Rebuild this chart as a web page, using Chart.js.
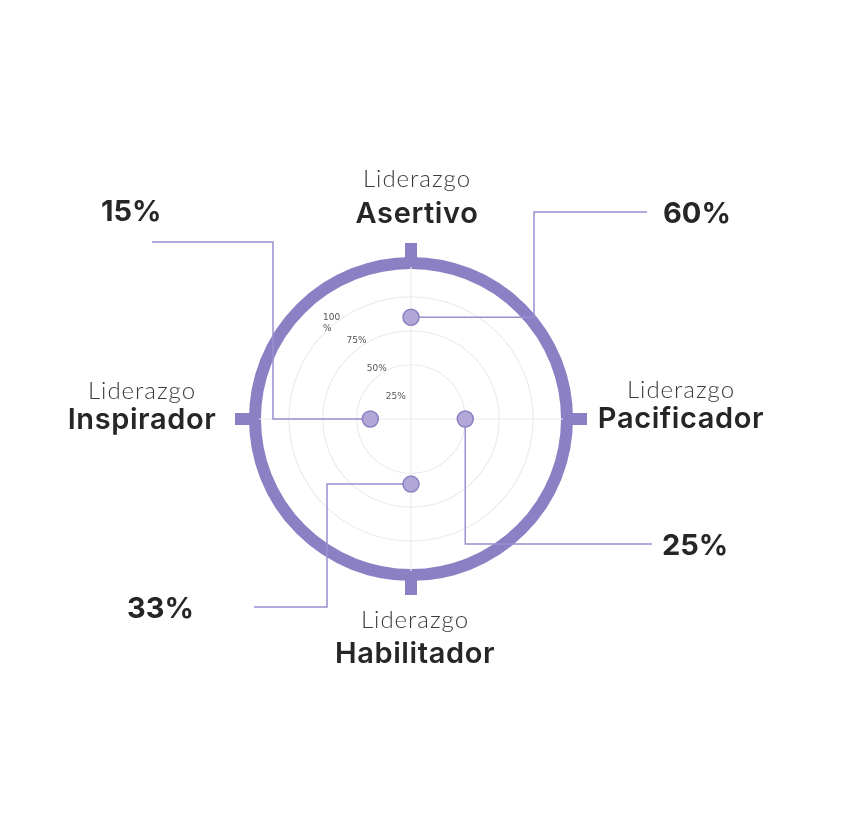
<!DOCTYPE html>
<html>
<head>
<meta charset="utf-8">
<script src="https://cdn.jsdelivr.net/npm/chart.js@4.4.0/dist/chart.umd.min.js"></script>
<style>
  html, body { margin: 0; background: #fff; }
  #wrap { width: 844px; height: 838px; }
</style>
</head>
<body>
<div id="wrap"><canvas id="radar"></canvas></div>
<script>
const categories = ['Asertivo', 'Pacificador', 'Habilitador', 'Inspirador'];
const values = [60, 25, 33, 15];
const tickValues = [25, 50, 75, 100];
const tickLabels = ['25%', '50%', '75%', ['100', '%']];
const prefix = 'Liderazgo';

const purple = '#8b80c3';
const lineColor = '#9a8fd0';
const textColor = '#262626';

// label placement around the centre, per axis (top, right, bottom, left)
const nameSpots = [
  { dx: 6, y1: -232, y2: -196 },
  { dx: 270, y1: -21, y2: 9 },
  { dx: 4, y1: 209, y2: 244 },
  { dx: -269, y1: -20, y2: 10 }
];

const decor = {
  id: 'decor',
  beforeDatasetsDraw(chart) {
    const ctx = chart.ctx;
    const s = chart.scales.r;
    const cx = s.xCenter, cy = s.yCenter;
    const R = s.drawingArea;

    // little bars poking out of the ring
    ctx.save();
    ctx.strokeStyle = purple;
    ctx.lineWidth = 12;
    categories.forEach((c, i) => {
      const a = s.getPointPosition(i, R - 4);
      const b = s.getPointPosition(i, R + 20);
      ctx.beginPath();
      ctx.moveTo(a.x, a.y);
      ctx.lineTo(b.x, b.y);
      ctx.stroke();
    });
    ctx.restore();

    // callout lines
    const pts = chart.getDatasetMeta(0).data;
    const routes = [
      p => [[p.x, p.y], [cx + 123, p.y], [cx + 123, cy - 207], [cx + 236, cy - 207]],
      p => [[p.x, p.y], [p.x, cy + 125], [cx + 241, cy + 125]],
      p => [[p.x, p.y], [cx - 84, p.y], [cx - 84, cy + 188], [cx - 157, cy + 188]],
      p => [[p.x, p.y], [cx - 138, p.y], [cx - 138, cy - 177], [cx - 259, cy - 177]]
    ];
    ctx.save();
    ctx.strokeStyle = lineColor;
    ctx.lineWidth = 1.5;
    pts.forEach((p, i) => {
      const path = routes[i](p);
      ctx.beginPath();
      path.forEach((q, k) => k ? ctx.lineTo(q[0], q[1]) : ctx.moveTo(q[0], q[1]));
      ctx.stroke();
    });
    ctx.restore();
  },
  afterDraw(chart) {
    const ctx = chart.ctx;
    const s = chart.scales.r;
    const cx = s.xCenter, cy = s.yCenter;

    ctx.save();
    // tick labels along a diagonal
    ctx.fillStyle = '#555';
    ctx.font = '9px "DejaVu Sans", sans-serif';
    ctx.textBaseline = 'middle';
    ctx.textAlign = 'left';
    const angles = [34, 34, 35, 38];
    tickValues.forEach((v, i) => {
      const ang = angles[i] * Math.PI / 180;
      const d = s.getDistanceFromCenterForValue(v) - 27;
      const x = cx - Math.sin(ang) * d;
      const y = cy - Math.cos(ang) * d;
      const lines = [].concat(tickLabels[i]);
      const w = ctx.measureText(lines[0]).width;
      lines.forEach((t, k) => ctx.fillText(t, x - w / 2, y + k * 11));
    });

    // axis names
    ctx.textAlign = 'center';
    ctx.textBaseline = 'alphabetic';
    categories.forEach((c, i) => {
      const sp = nameSpots[i];
      ctx.font = '300 24px "Lato", "Open Sans", sans-serif';
      ctx.letterSpacing = '1px';
      ctx.fillStyle = '#3a3a3a';
      ctx.fillText(prefix, cx + sp.dx, cy + sp.y1);
      ctx.font = '600 29px "Inter", "Open Sans", sans-serif';
      ctx.letterSpacing = '0.6px';
      ctx.fillStyle = textColor;
      ctx.fillText(c, cx + sp.dx, cy + sp.y2);
    });
    ctx.letterSpacing = '0px';

    // percentage callouts
    ctx.font = '700 29px "Inter", "Open Sans", sans-serif';
    const tags = [
      { x: cx + 252, y: cy - 196, align: 'left' },
      { x: cx + 251, y: cy + 136, align: 'left' },
      { x: cx - 217, y: cy + 199, align: 'right' },
      { x: cx - 310, y: cy - 198, align: 'left' }
    ];
    values.forEach((v, i) => {
      ctx.textAlign = tags[i].align;
      ctx.fillText(v + '%', tags[i].x, tags[i].y);
    });
    ctx.restore();
  }
};

const ctx = document.getElementById('radar').getContext('2d');
const chart = new Chart(ctx, {
  type: 'radar',
  data: {
    labels: categories,
    datasets: [{
      label: 'Liderazgo',
      data: values,
      showLine: false,
      fill: false,
      borderWidth: 0,
      backgroundColor: 'transparent',
      pointRadius: 8,
      pointHoverRadius: 8,
      pointBackgroundColor: '#b2a7d7',
      pointBorderColor: '#8b80c3',
      pointBorderWidth: 1.5
    }]
  },
  options: {
    responsive: true,
    maintainAspectRatio: false,
    animation: false,
    layout: { padding: { left: 255, right: 277, top: 263, bottom: 263 } },
    plugins: {
      legend: { display: false },
      tooltip: { enabled: false }
    },
    scales: {
      r: {
        min: -15,
        max: 100,
        afterBuildTicks: scale => {
          scale.ticks = tickValues.map(v => ({ value: v }));
        },
        ticks: { display: false },
        pointLabels: { display: false },
        angleLines: { color: '#ececec', lineWidth: 1.2 },
        grid: {
          circular: true,
          color: c => c.tick && c.tick.value === 100 ? purple : '#ececec',
          lineWidth: c => c.tick && c.tick.value === 100 ? 12 : 1.2
        }
      }
    }
  },
  plugins: [decor]
});
</script>
</body>
</html>
